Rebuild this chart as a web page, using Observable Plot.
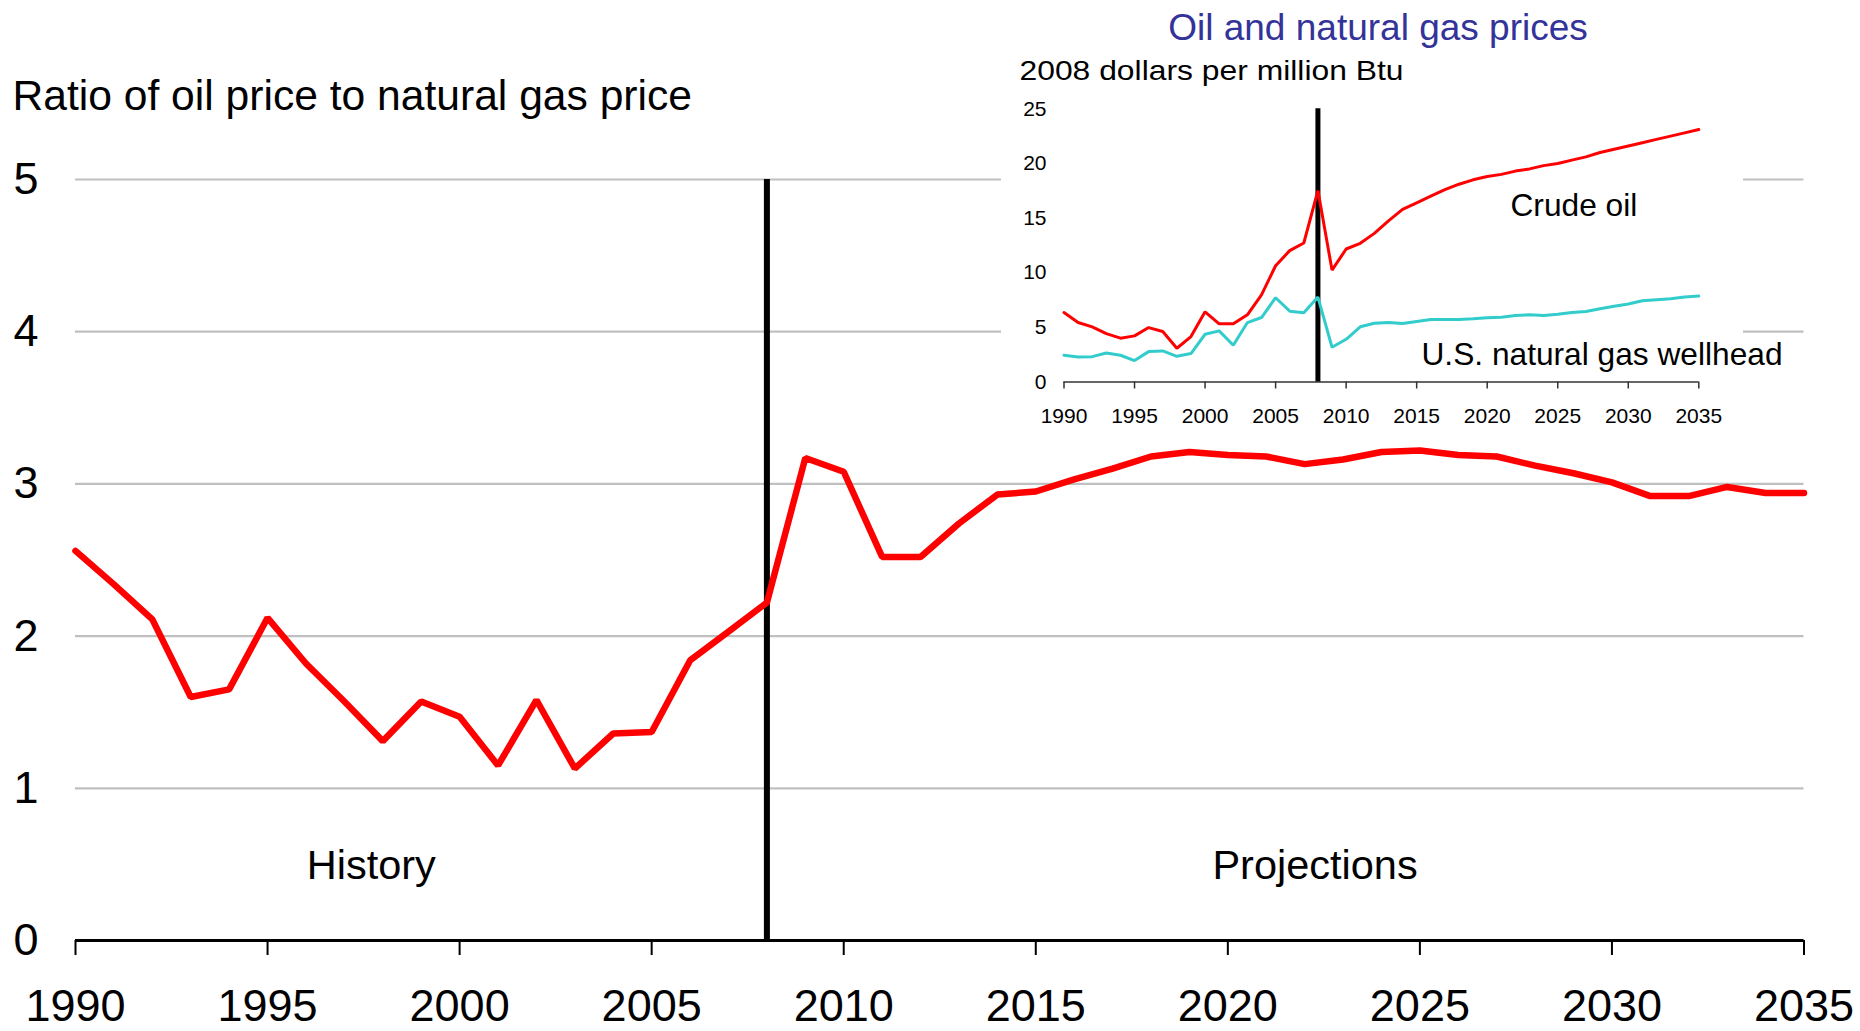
<!DOCTYPE html>
<html>
<head>
<meta charset="utf-8">
<script src="https://cdn.jsdelivr.net/npm/d3@7"></script>
<script src="https://cdn.jsdelivr.net/npm/@observablehq/plot@0.6"></script>
<style>
  html, body { margin: 0; padding: 0; background: white; }
  #wrap { position: relative; width: 1860px; height: 1031px; overflow: hidden; }
</style>
</head>
<body>
<div id="wrap"></div>
<script>
// ---- data ----
const years = [1990,1991,1992,1993,1994,1995,1996,1997,1998,1999,
               2000,2001,2002,2003,2004,2005,2006,2007,2008,2009,
               2010,2011,2012,2013,2014,2015,2016,2017,2018,2019,
               2020,2021,2022,2023,2024,2025,2026,2027,2028,2029,
               2030,2031,2032,2033,2034,2035];
const ratio = [2.56,2.34,2.11,1.60,1.65,2.12,1.82,1.57,1.31,1.57,
               1.47,1.15,1.58,1.13,1.36,1.37,1.84,2.03,2.22,3.17,
               3.08,2.52,2.52,2.74,2.93,2.95,3.03,3.10,3.18,3.21,
               3.19,3.18,3.13,3.16,3.21,3.22,3.19,3.18,3.12,3.07,
               3.01,2.92,2.92,2.98,2.94,2.94];
const crudeOil = [6.36,5.44,5.05,4.43,4.01,4.22,4.98,4.62,3.09,4.16,
                  6.42,5.32,5.32,6.15,7.98,10.64,12.02,12.72,17.52,10.24,
                  12.17,12.69,13.6,14.75,15.8,16.4,17.0,17.6,18.1,18.5,
                  18.8,19.0,19.3,19.5,19.8,20.0,20.3,20.6,21.0,21.3,
                  21.6,21.9,22.2,22.5,22.8,23.1];
const naturalGas = [2.45,2.29,2.32,2.66,2.45,1.96,2.78,2.84,2.35,2.60,
                    4.37,4.68,3.36,5.44,5.90,7.71,6.48,6.33,7.77,3.18,
                    3.91,5.05,5.38,5.44,5.35,5.54,5.72,5.72,5.72,5.78,
                    5.87,5.93,6.09,6.15,6.09,6.21,6.36,6.45,6.70,6.94,
                    7.13,7.43,7.52,7.61,7.77,7.86];
const xTickLabels = [1990,1995,2000,2005,2010,2015,2020,2025,2030,2035];
const mainYTicks = [0,1,2,3,4,5];
const insetYTicks = [0,5,10,15,20,25];
const dividerYear = [2008];
const mainTitle = "Ratio of oil price to natural gas price";
const periodLabels = [
  {label: "History", year: 1997.7, value: 0.49},
  {label: "Projections", year: 2022.27, value: 0.49}
];
const insetTitle = "Oil and natural gas prices";
const insetUnits = "2008 dollars per million Btu";
const seriesLabels = [
  {label: "Crude oil", year: 2021.65, value: 16.14},
  {label: "U.S. natural gas wellhead", year: 2015.34, value: 2.51}
];

const rows = years.map((y, i) => ({year: y, ratio: ratio[i], oil: crudeOil[i], gas: naturalGas[i]}));
const font = "'Liberation Sans', Arial, Helvetica, sans-serif";

// ---- main chart ----
const main = Plot.plot({
  width: 1860, height: 1031,
  marginLeft: 75, marginRight: 56.5, marginTop: 179, marginBottom: 91,
  style: {fontFamily: font, background: "white", color: "black", overflow: "visible"},
  x: {domain: [1990, 2035], label: null},
  y: {domain: [0, 5], label: null},
  marks: [
    Plot.ruleY(mainYTicks.filter(d => d > 0), {stroke: "#c0c0c0", strokeWidth: 2.2}),
    Plot.ruleX(dividerYear, {y1: 0, y2: 5, stroke: "black", strokeWidth: 6}),
    Plot.ruleY([0], {stroke: "black", strokeWidth: 3}),
    Plot.axisX({ticks: xTickLabels, tickFormat: d => String(d), tickSize: 15, tickPadding: 34,
                fontSize: 45, strokeWidth: 2, label: null}),
    Plot.axisY({ticks: mainYTicks, tickFormat: d => String(d), tickSize: 0, tickPadding: 62, textAnchor: "start",
                fontSize: 45, label: null}),
    Plot.line(rows, {x: "year", y: "ratio", stroke: "#ff0000", strokeWidth: 6.5, strokeLinejoin: "miter"}),
    Plot.text(periodLabels, {x: "year", y: "value", text: "label", fontSize: 41.5, fill: "black"}),
    Plot.text([mainTitle], {text: d => d, frameAnchor: "top-left", textAnchor: "start", lineAnchor: "top",
                            dx: -63, dy: -100, fontSize: 42.6, fill: "black"})
  ]
});

// ---- inset chart ----
const inset = Plot.plot({
  width: 742, height: 445,
  marginLeft: 62.5, marginRight: 44.7, marginTop: 108.3, marginBottom: 63.5,
  style: {fontFamily: font, background: "white", color: "black", overflow: "visible"},
  x: {domain: [1990, 2035], label: null},
  y: {domain: [0, 25], label: null},
  marks: [
    Plot.ruleY([0], {stroke: "#333", strokeWidth: 1.6}),
    Plot.axisX({ticks: xTickLabels, tickFormat: d => String(d), tickSize: 7, tickPadding: 19,
                fontSize: 21, stroke: "#333", strokeWidth: 1.5, label: null}),
    Plot.axisY({ticks: insetYTicks, tickFormat: d => String(d), tickSize: 0, tickPadding: 17.5, fontSize: 21, label: null}),
    Plot.ruleX(dividerYear, {y1: 0, y2: 25, stroke: "black", strokeWidth: 5}),
    Plot.line(rows, {x: "year", y: "oil", stroke: "#ff0000", strokeWidth: 3, strokeLinejoin: "miter"}),
    Plot.line(rows, {x: "year", y: "gas", stroke: "#33cccc", strokeWidth: 3, strokeLinejoin: "miter"}),
    Plot.text(seriesLabels, {x: "year", y: "value", text: "label", textAnchor: "start", fontSize: 31.7, fill: "black"}),
    Plot.text([insetTitle], {text: d => d, frameAnchor: "top", lineAnchor: "top", dx: -3.4, dy: -94.6,
                             fontSize: 37, fill: "#333399"}),
    Plot.text([insetUnits], {text: d => d, frameAnchor: "top-left", textAnchor: "start", lineAnchor: "top",
                             dx: -44.5, dy: -48.2, fontSize: 28, fill: "black"})
  ]
});

d3.select(inset).selectAll("text").filter(function() { return this.textContent === insetUnits; })
  .attr("textLength", 384).attr("lengthAdjust", "spacingAndGlyphs");

const wrap = document.getElementById("wrap");
main.style.position = "absolute"; main.style.left = "0px"; main.style.top = "0px";
inset.style.position = "absolute"; inset.style.left = "1001px"; inset.style.top = "0px";
wrap.appendChild(main);
wrap.appendChild(inset);
</script>
</body>
</html>
